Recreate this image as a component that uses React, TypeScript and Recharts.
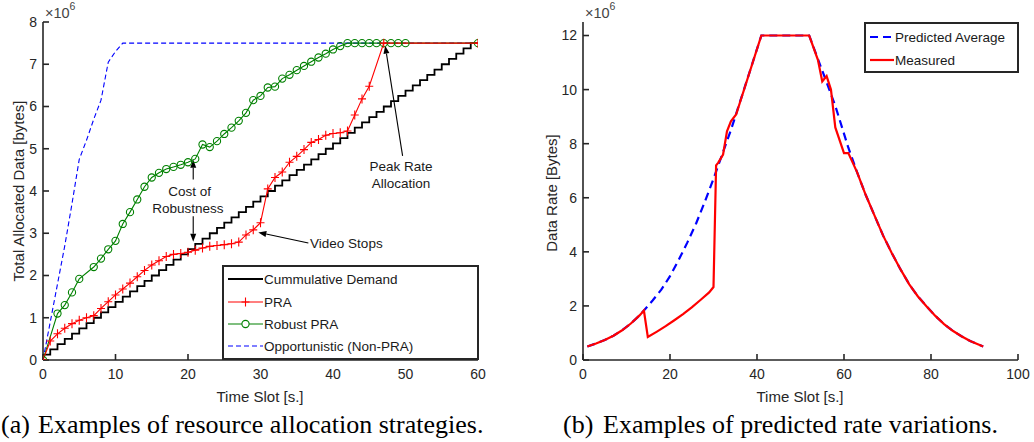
import React from "react";
import { LineChart, Line, XAxis, YAxis, ReferenceLine, ReferenceDot } from "recharts";

// (a) allocation strategies, values in 10^6 bytes
const demandSlots = [0, 0, 1, 2, 3, 4, 5, 6, 7, 8, 9, 10, 11, 12, 13, 14, 15, 16, 17, 18, 19, 20, 21, 22, 23, 24, 25, 26, 27, 28, 29, 30, 31, 32, 33, 34, 35, 36, 37, 38, 39, 40, 41, 42, 43, 44, 45, 46, 47, 48, 49, 50, 51, 52, 53, 54, 55, 56, 57, 58, 59, 60];
const demand = [0, 0.125, 0.25, 0.375, 0.5, 0.625, 0.75, 0.875, 1, 1.125, 1.25, 1.375, 1.5, 1.625, 1.75, 1.875, 2, 2.125, 2.25, 2.375, 2.5, 2.625, 2.75, 2.875, 3, 3.125, 3.25, 3.375, 3.5, 3.625, 3.75, 3.875, 4, 4.125, 4.25, 4.375, 4.5, 4.625, 4.75, 4.875, 5, 5.125, 5.25, 5.375, 5.5, 5.625, 5.75, 5.875, 6, 6.125, 6.25, 6.375, 6.5, 6.625, 6.75, 6.875, 7, 7.125, 7.25, 7.375, 7.5, 7.5];

const praSlots = [0, 1, 2, 3, 4, 5, 6, 7, 8, 9, 10, 11, 12, 13, 14, 15, 16, 17, 18, 19, 20, 21, 22, 23, 24, 25, 26, 27, 28, 29, 30, 31, 32, 33, 34, 35, 36, 37, 38, 39, 40, 41, 42, 43, 44, 45, 47, 60];
const pra = [0, 0.45, 0.62, 0.75, 0.86, 0.94, 1.0, 1.05, 1.22, 1.38, 1.54, 1.68, 1.82, 1.97, 2.12, 2.25, 2.35, 2.45, 2.5, 2.52, 2.55, 2.6, 2.65, 2.69, 2.71, 2.73, 2.75, 2.79, 2.96, 3.08, 3.25, 4.05, 4.32, 4.45, 4.68, 4.82, 4.98, 5.15, 5.22, 5.32, 5.36, 5.38, 5.42, 5.8, 6.18, 6.48, 7.5, 7.5];

const robustSlots = [0, 2, 3, 4, 5, 7, 8, 9, 10, 11, 12, 13, 14, 15, 16, 17, 18, 19, 20, 21, 22, 23, 24, 25, 26, 27, 28, 29, 30, 31, 32, 33, 34, 35, 36, 37, 38, 39, 40, 41, 42, 43, 44, 45, 46, 47, 48, 49, 50, 60];
const robust = [0, 1.1, 1.3, 1.6, 1.92, 2.2, 2.4, 2.62, 2.82, 3.22, 3.5, 3.8, 4.1, 4.32, 4.43, 4.52, 4.57, 4.62, 4.68, 4.76, 5.1, 5.04, 5.18, 5.35, 5.5, 5.66, 5.85, 6.15, 6.25, 6.45, 6.47, 6.66, 6.75, 6.86, 6.96, 7.06, 7.16, 7.25, 7.35, 7.43, 7.5, 7.5, 7.5, 7.5, 7.5, 7.5, 7.5, 7.5, 7.5, 7.5];

const oppSlots = [0, 1, 2, 3, 4, 5, 6, 7, 8, 9, 10, 11, 60];
const opp = [0, 0.9, 1.8, 2.7, 3.7, 4.75, 5.2, 5.7, 6.15, 7.05, 7.3, 7.5, 7.5];

// (b) rate variations, values in 10^6 bytes
const predSlots = [1, 3, 5, 7, 9, 11, 13, 14, 16, 18, 20, 22, 24, 26, 28, 30, 32, 34, 35, 38, 41, 52, 55, 58, 61, 63, 65, 67, 69, 71, 73, 75, 77, 79, 81, 83, 85, 87, 89, 92];
const predicted = [0.5, 0.61, 0.74, 0.9, 1.1, 1.35, 1.65, 1.83, 2.2, 2.6, 3.1, 3.7, 4.35, 5.05, 5.85, 6.7, 7.6, 8.5, 9.0, 10.5, 12, 12, 10.7, 9.4, 7.85, 6.95, 6.1, 5.35, 4.6, 3.95, 3.35, 2.8, 2.35, 1.98, 1.63, 1.33, 1.08, 0.88, 0.7, 0.5];

const measSlots = [1, 3, 5, 7, 9, 11, 13, 14, 14.9, 17, 19, 21, 23, 25, 27, 29, 30, 30.6, 31.1, 32.2, 33.1, 34, 35.2, 41, 52, 54, 55, 56, 57, 58, 60, 61, 63, 65, 67, 69, 71, 73, 75, 77, 79, 81, 83, 85, 87, 89, 92];
const measured = [0.5, 0.61, 0.74, 0.9, 1.1, 1.35, 1.65, 1.83, 0.85, 1.05, 1.25, 1.47, 1.7, 1.95, 2.22, 2.5, 2.7, 7.2, 7.3, 7.6, 8.46, 8.83, 9.08, 12, 12, 11.1, 10.3, 10.5, 10.0, 8.6, 7.65, 7.65, 6.95, 6.1, 5.35, 4.6, 3.95, 3.35, 2.8, 2.35, 1.98, 1.63, 1.33, 1.08, 0.88, 0.7, 0.5];

const ticksA = [0, 10, 20, 30, 40, 50, 60];
const ticksAY = [0, 1, 2, 3, 4, 5, 6, 7, 8];
const ticksB = [0, 20, 40, 60, 80, 100];
const ticksBY = [0, 2, 4, 6, 8, 10, 12];

const zip = (xs: number[], ys: number[]) => xs.map((t, i) => ({ t, v: ys[i] }));

const SANS = "'Liberation Sans', Arial, sans-serif";
const SERIF = "'Liberation Serif', 'Times New Roman', serif";
const AX = "#262626";

const plusDot = (p: any) => {
  const { cx, cy, index } = p;
  if (cx == null || cy == null) return <g key={`pd-${index}`} />;
  return (
    <path
      key={`pd-${index}`}
      d={`M${cx - 4},${cy}H${cx + 4}M${cx},${cy - 4.5}V${cy + 4.5}`}
      stroke="#ff0000"
      strokeWidth={1.1}
      fill="none"
    />
  );
};

const arrow = (p: any) => {
  const { x1, y1, x2, y2 } = p;
  const a = Math.atan2(y2 - y1, x2 - x1);
  const L = 8;
  const W = 3;
  const bx = x2 - L * Math.cos(a);
  const by = y2 - L * Math.sin(a);
  const nx = -Math.sin(a) * W;
  const ny = Math.cos(a) * W;
  return (
    <g>
      <line x1={x1} y1={y1} x2={bx} y2={by} stroke="#000" strokeWidth={1.1} />
      <polygon points={`${x2},${y2} ${bx + nx},${by + ny} ${bx - nx},${by - ny}`} fill="#000" />
    </g>
  );
};

const label = (text: string, anchor: "start" | "middle" = "middle") => (p: any) => (
  <text
    x={p.cx}
    y={p.cy}
    textAnchor={anchor}
    dominantBaseline="central"
    fontFamily={SANS}
    fontSize={13.5}
    fill="#1a1a1a"
  >
    {text}
  </text>
);

const axisCommon = {
  stroke: AX,
  strokeWidth: 1.6,
  tickSize: -6,
  interval: 0 as const,
  allowDataOverflow: true,
};
const tickStyle = { fill: AX, fontSize: 14, fontFamily: SANS };

function ChartA() {
  return (
    <LineChart width={490} height={400} margin={{ top: 22, right: 12, left: 0, bottom: 0 }}>
      <XAxis dataKey="t" type="number" domain={[0, 60]} ticks={ticksA} height={40} tickMargin={15} tick={tickStyle} {...axisCommon} />
      <XAxis xAxisId="top" orientation="top" dataKey="t" type="number" domain={[0, 60]} ticks={ticksA} height={0} tick={false} {...axisCommon} />
      <YAxis type="number" domain={[0, 8]} ticks={ticksAY} width={43} tickMargin={12} tick={tickStyle} {...axisCommon} />
      <YAxis yAxisId="r" orientation="right" type="number" domain={[0, 8]} ticks={ticksAY} width={0} tick={false} {...axisCommon} />
      <Line data={zip(oppSlots, opp)} dataKey="v" stroke="#0000ff" strokeWidth={1.1} strokeDasharray="5 3" dot={false} isAnimationActive={false} />
      <Line data={zip(demandSlots, demand)} dataKey="v" type="stepAfter" stroke="#000" strokeWidth={1.8} dot={false} isAnimationActive={false} />
      <Line data={zip(robustSlots, robust)} dataKey="v" stroke="#008000" strokeWidth={1.1} dot={{ r: 3.6, fill: "none", stroke: "#008000", strokeWidth: 1.1 }} isAnimationActive={false} />
      <Line data={zip(praSlots, pra)} dataKey="v" stroke="#ff0000" strokeWidth={1.1} dot={plusDot} isAnimationActive={false} />
      <ReferenceLine segment={[{ x: 20.72, y: 4.275 }, { x: 20.72, y: 4.74 }]} shape={arrow} />
      <ReferenceLine segment={[{ x: 20.72, y: 3.4 }, { x: 20.72, y: 2.8 }]} shape={arrow} />
      <ReferenceLine segment={[{ x: 36.6, y: 2.77 }, { x: 29.7, y: 3.02 }]} shape={arrow} />
      <ReferenceLine segment={[{ x: 49.6, y: 4.83 }, { x: 47.2, y: 7.44 }]} shape={arrow} />
      <ReferenceDot x={20.22} y={4.0} shape={label("Cost of")} />
      <ReferenceDot x={19.99} y={3.58} shape={label("Robustness")} />
      <ReferenceDot x={36.84} y={2.755} shape={label("Video Stops", "start")} />
      <ReferenceDot x={49.38} y={4.59} shape={label("Peak Rate")} />
      <ReferenceDot x={49.38} y={4.17} shape={label("Allocation")} />
    </LineChart>
  );
}

function ChartB() {
  return (
    <LineChart width={510} height={400} margin={{ top: 22, right: 12, left: 0, bottom: 0 }}>
      <XAxis dataKey="t" type="number" domain={[0, 100]} ticks={ticksB} height={40} tickMargin={15} tick={tickStyle} {...axisCommon} />
      <XAxis xAxisId="top" orientation="top" dataKey="t" type="number" domain={[0, 100]} ticks={ticksB} height={0} tick={false} {...axisCommon} />
      <YAxis type="number" domain={[0, 12.5]} ticks={ticksBY} width={63} tickMargin={12} tick={tickStyle} {...axisCommon} />
      <YAxis yAxisId="r" orientation="right" type="number" domain={[0, 12.5]} ticks={ticksBY} width={0} tick={false} {...axisCommon} />
      <Line data={zip(predSlots, predicted)} dataKey="v" stroke="#0000ff" strokeWidth={2.2} strokeDasharray="8 5" dot={false} isAnimationActive={false} />
      <Line data={zip(measSlots, measured)} dataKey="v" stroke="#ff0000" strokeWidth={2.2} dot={false} isAnimationActive={false} />
    </LineChart>
  );
}

function Overlay() {
  const t = { fontFamily: SANS, fill: AX };
  return (
    <svg width={1034} height={442} style={{ position: "absolute", left: 0, top: 0, pointerEvents: "none" }}>
      {/* legend (a) */}
      <rect x={223} y={266} width={255} height={93} fill="#fff" stroke={AX} strokeWidth={2} />
      <line x1={228} y1={279} x2={263} y2={279} stroke="#000" strokeWidth={1.8} />
      <line x1={228} y1={302} x2={263} y2={302} stroke="#ff0000" strokeWidth={1.1} />
      <path d="M241.5,302H249.5M245.5,297.5V306.5" stroke="#ff0000" strokeWidth={1.1} />
      <line x1={228} y1={324} x2={263} y2={324} stroke="#008000" strokeWidth={1.1} />
      <circle cx={245.5} cy={324} r={3.6} fill="#fff" stroke="#008000" strokeWidth={1.1} />
      <line x1={228} y1={346} x2={263} y2={346} stroke="#0000ff" strokeWidth={1.1} strokeDasharray="5 3" />
      <g {...t} fontSize={13.5} fill="#1a1a1a" dominantBaseline="central">
        <text x={264} y={279}>Cummulative Demand</text>
        <text x={264} y={302}>PRA</text>
        <text x={264} y={324}>Robust PRA</text>
        <text x={264} y={346}>Opportunistic (Non-PRA)</text>
      </g>
      {/* legend (b) */}
      <rect x={865} y={23} width={153} height={49} fill="#fff" stroke={AX} strokeWidth={2} />
      <line x1={870} y1={37} x2={894} y2={37} stroke="#0000ff" strokeWidth={2.2} strokeDasharray="8 5" />
      <line x1={870} y1={60} x2={894} y2={60} stroke="#ff0000" strokeWidth={2.2} />
      <g {...t} fontSize={13.5} fill="#1a1a1a" dominantBaseline="central">
        <text x={895} y={37}>Predicted Average</text>
        <text x={895} y={60}>Measured</text>
      </g>
      {/* exponents */}
      <text x={45} y={18} {...t} fontSize={14.5} fill="#444">
        ×10<tspan dy={-8} fontSize={10.5}>6</tspan>
      </text>
      <text x={585} y={18} {...t} fontSize={14.5} fill="#444">
        ×10<tspan dy={-8} fontSize={10.5}>6</tspan>
      </text>
      {/* axis titles */}
      <text x={260} y={396} {...t} fontSize={15} textAnchor="middle" dominantBaseline="central">Time Slot [s.]</text>
      <text x={800} y={396} {...t} fontSize={15} textAnchor="middle" dominantBaseline="central">Time Slot [s.]</text>
      <text transform="translate(18,191) rotate(-90)" {...t} fontSize={15} textAnchor="middle" dominantBaseline="central">Total Allocated Data [bytes]</text>
      <text transform="translate(551,193) rotate(-90)" {...t} fontSize={15} textAnchor="middle" dominantBaseline="central">Data Rate [Bytes]</text>
      {/* captions */}
      <g fontFamily={SERIF} fontSize={26} fill="#000">
        <text x={1} y={433}>(a)</text>
        <text x={38} y={433}>Examples of resource allocation strategies.</text>
        <text x={563} y={433}>(b)</text>
        <text x={603} y={433}>Examples of predicted rate variations.</text>
      </g>
    </svg>
  );
}

export default function App() {
  return (
    <div style={{ position: "relative", width: 1034, height: 442, background: "#fff", overflow: "hidden" }}>
      <style>{"body{margin:0}"}</style>
      <div style={{ position: "absolute", left: 0, top: 0 }}>
        <ChartA />
      </div>
      <div style={{ position: "absolute", left: 520, top: 0 }}>
        <ChartB />
      </div>
      <Overlay />
    </div>
  );
}
